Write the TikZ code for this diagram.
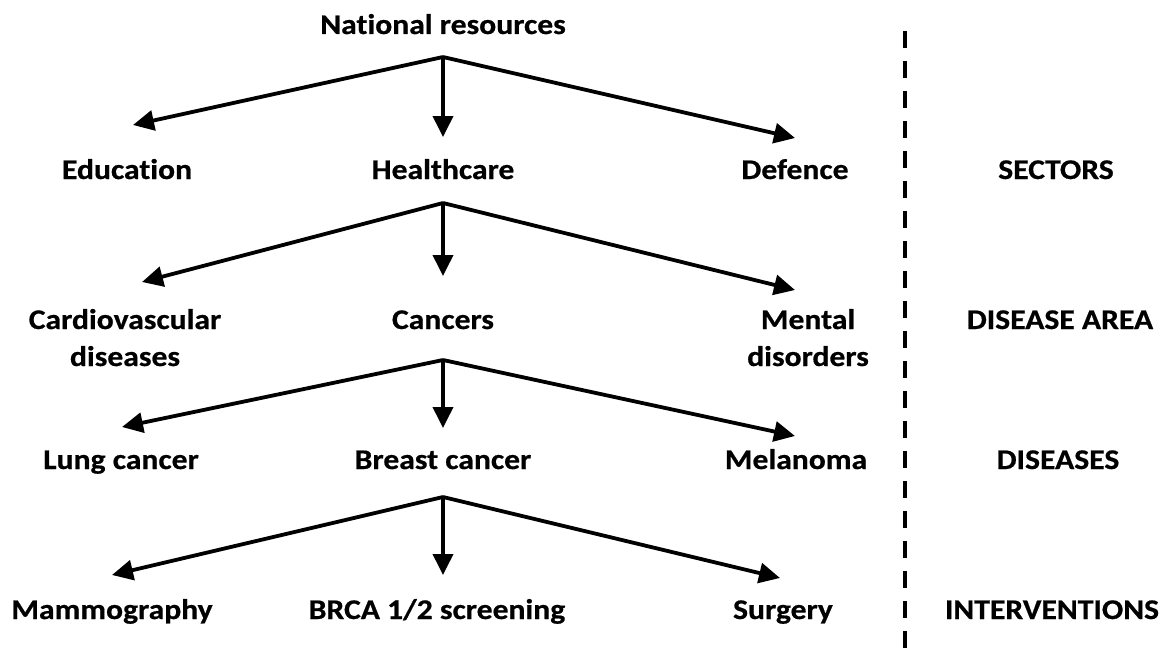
\documentclass[tikz,border=0pt]{standalone}
\usepackage{fontspec}
\setmainfont{Carlito}[RawFeature=-liga, FakeStretch=1.11, BoldFeatures={FakeBold=0.6}]
\usetikzlibrary{arrows.meta}
\begin{document}
\begin{tikzpicture}[x=1pt,y=-1pt,
  lbl/.style={font=\bfseries\fontsize{28.5}{37}\selectfont, inner sep=0pt, align=center, anchor=base},
  arr/.style={line width=3.8pt, -{Triangle[length=21pt,width=20pt]}},
  divider/.style={line width=4pt, dash pattern=on 17pt off 13pt}]
\useasboundingbox (0,0) rectangle (1163,653);

% labels, one row per level (positions are baselines)
\node[lbl] (nat) at (443,34) {National resources};

\node[lbl] (edu) at (127,179) {Education};
\node[lbl] (hc)  at (443,179) {Healthcare};
\node[lbl] (def) at (795,179) {Defence};

\node[lbl] (cvd) at (125,366) {Cardiovascular\\diseases};
\node[lbl] (can) at (443,329) {Cancers};
\node[lbl] (men) at (808,366) {Mental\\disorders};

\node[lbl] (lung) at (121,469) {Lung cancer};
\node[lbl] (bc)   at (443,469) {Breast cancer};
\node[lbl] (mel)  at (796,469) {Melanoma};

\node[lbl] (mam)  at (112,619) {Mammography};
\node[lbl] (brca) at (437,619) {BRCA 1/2 screening};
\node[lbl] (sur)  at (783,619) {Surgery};

% level names to the right of the divider
\node[lbl] (sec) at (1056,179) {SECTORS};
\node[lbl] (dis) at (1060,329) {DISEASE AREA};
\node[lbl] (dss) at (1058,469) {DISEASES};
\node[lbl] (int) at (1052,619) {INTERVENTIONS};

% branch points and arrow ends
\coordinate (natB) at (443,57);
\coordinate (hcB)  at (443,203);
\coordinate (canB) at (443,360);
\coordinate (bcB)  at (443,497);

\coordinate (eduT) at (133,125);
\coordinate (hcT)  at (443,137);
\coordinate (defT) at (795,138);
\coordinate (cvdT) at (142,282);
\coordinate (canT) at (443,276);
\coordinate (menT) at (795,290);
\coordinate (lungT) at (122,427);
\coordinate (bcT)   at (443,428);
\coordinate (melT)  at (795,436);
\coordinate (mamT)  at (112,575);
\coordinate (brcaT) at (443,575);
\coordinate (surT)  at (780,578);

\draw[arr] (natB) -- (eduT);
\draw[arr] (natB) -- (hcT);
\draw[arr] (natB) -- (defT);
\draw[arr] (hcB) -- (cvdT);
\draw[arr] (hcB) -- (canT);
\draw[arr] (hcB) -- (menT);
\draw[arr] (canB) -- (lungT);
\draw[arr] (canB) -- (bcT);
\draw[arr] (canB) -- (melT);
\draw[arr] (bcB) -- (mamT);
\draw[arr] (bcB) -- (brcaT);
\draw[arr] (bcB) -- (surT);

% dashed divider
\coordinate (divTop) at (905,31);
\coordinate (divBot) at (905,653);
\draw[divider] (divTop) -- (divBot);
\end{tikzpicture}
\end{document}
